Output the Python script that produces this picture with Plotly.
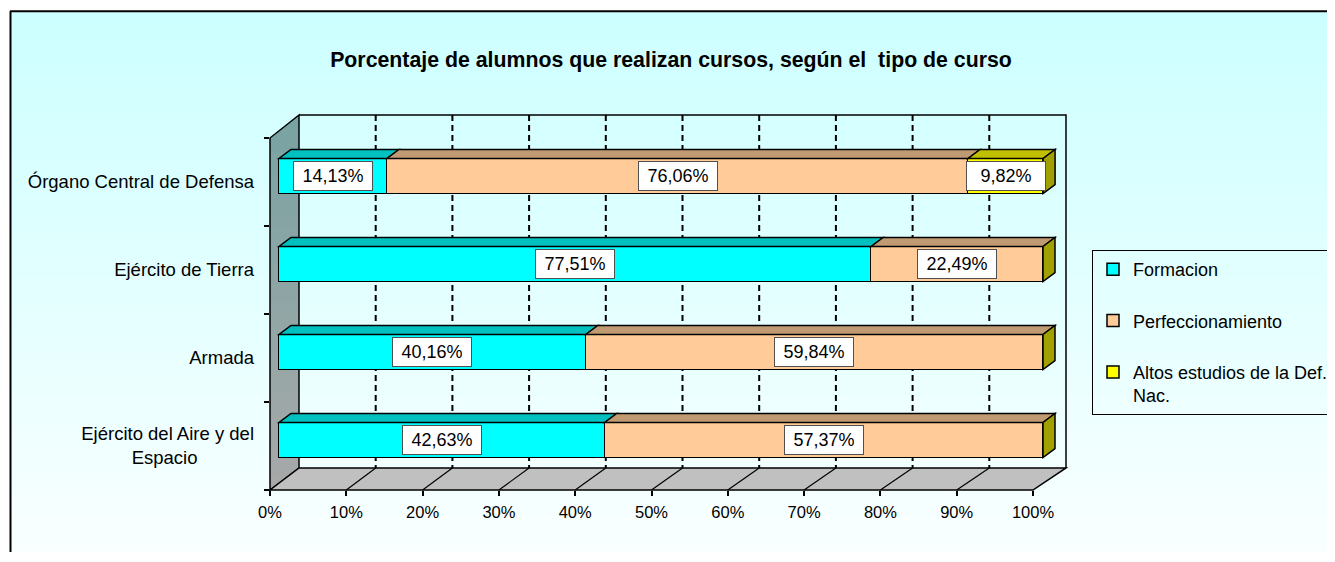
import plotly.graph_objects as go

# ---------------- data ----------------
categories = ["Ejército del Aire y del Espacio", "Armada", "Ejército de Tierra", "Órgano Central de Defensa"]
category_ticktext = ["Ejército del Aire y del<br>Espacio" + "\u00a0" * 11, "Armada",
                     "Ejército de Tierra", "Órgano Central de Defensa"]
series_names = ["Formacion", "Perfeccionamiento", "Altos estudios de la Def.<br>Nac."]
formacion = [42.63, 40.16, 77.51, 14.13]
perfeccionamiento = [57.37, 59.84, 22.49, 76.06]
altos_estudios = [0.0, 0.0, 0.0, 9.82]
x_tick_values = [0, 10, 20, 30, 40, 50, 60, 70, 80, 90, 100]
x_tick_labels = ["0%", "10%", "20%", "30%", "40%", "50%", "60%", "70%", "80%", "90%", "100%"]
title_text = "Porcentaje de alumnos que realizan cursos, según el  tipo de curso"

series_values = [formacion, perfeccionamiento, altos_estudios]

# ---------------- styles / geometry (screen pixels) ----------------
FONT = "Arial, Liberation Sans, sans-serif"
front_colors = ["#00FFFF", "#FFCC99", "#FFFF00"]
top_colors = ["#00C0C0", "#C09A72", "#C0C000"]
side_colors = ["#009999", "#A07850", "#A0A000"]

OFF = 8                                        # page body margin
W_FIG, H_FIG = 1319, 544
SCREEN_W, SCREEN_H = 1335, 562
PL, PR, PT, PB = 270, 1066, 115, 490          # plot area (screen px)
PW, PH = PR - PL, PB - PT
BAR_X0, BAR_PX = 279, 7.64                    # bar front plane: 0% pixel and px per %
FRONT_X0, FRONT_X1 = 270, 1033                # floor front edge
BACK_X0, BACK_X1 = 299, 1066                  # back wall
BACK_Y = 468
SIDE_TOP_FRONT_Y = 138
CAT_PX = 88
BAR_H_PX, BAR_SHIFT_PX = 35, 6
DEPTH_DX, DEPTH_DY = 12, 9

x_range = [(PL - BAR_X0) / BAR_PX, (PR - BAR_X0) / BAR_PX]
y_range = [-0.5, -0.5 + PH / CAT_PX]
bar_w = BAR_H_PX / CAT_PX
shift = BAR_SHIFT_PX / CAT_PX
bar_offset = shift - bar_w / 2
ddx = DEPTH_DX / BAR_PX
ddy = DEPTH_DY / CAT_PX


def px(x):
    return (x - PL) / PW


def py(y):
    return (PB - y) / PH


def lerp(a, b, t):
    return a + (b - a) * t


def rgb(c):
    return "rgb(%d,%d,%d)" % tuple(int(round(v)) for v in c)


def poly(pts, close=True):
    s = "M " + " L ".join("%.5f,%.5f" % (px(x), py(y)) for x, y in pts)
    return s + (" Z" if close else "")


shapes = []

# background gradient inside the chart border
BG_TOP, BG_BOT = (204, 255, 255), (250, 255, 255)
n_bands = 60
y_start, y_end = 11, SCREEN_H
step = (y_end - y_start) / n_bands
for i in range(n_bands):
    y0 = y_start + i * step
    y1 = y0 + step + 0.8
    t = (i + 0.5) / n_bands
    col = tuple(lerp(BG_TOP[k], BG_BOT[k], t) for k in range(3))
    shapes.append(dict(type="rect", xref="paper", yref="paper", layer="below",
                       x0=px(10), x1=px(SCREEN_W + 10), y0=py(y1), y1=py(y0),
                       fillcolor=rgb(col), line=dict(width=0)))

# outer border (left and top visible)
shapes.append(dict(type="line", xref="paper", yref="paper", layer="below",
                   x0=px(10.5), x1=px(10.5), y0=py(11), y1=py(SCREEN_H + 10),
                   line=dict(color="black", width=2)))
shapes.append(dict(type="line", xref="paper", yref="paper", layer="below",
                   x0=px(10), x1=px(SCREEN_W + 10), y0=py(11.3), y1=py(11.3),
                   line=dict(color="black", width=2)))

# left side wall with vertical gradient
WALL_TOP, WALL_BOT = (120, 163, 163), (168, 168, 168)


def xmin_at(y):
    if y >= SIDE_TOP_FRONT_Y:
        return FRONT_X0
    return FRONT_X0 + (SIDE_TOP_FRONT_Y - y) * (BACK_X0 - FRONT_X0) / (SIDE_TOP_FRONT_Y - PT)


def xmax_at(y):
    if y <= BACK_Y:
        return BACK_X0
    return BACK_X0 - (y - BACK_Y) * (BACK_X0 - FRONT_X0) / (PB - BACK_Y)


bounds = sorted(set([PT + k * (PB - PT) / 30 for k in range(31)] + [SIDE_TOP_FRONT_Y, BACK_Y]))
for a, b in zip(bounds[:-1], bounds[1:]):
    bb = min(b + 0.7, PB)
    t = ((a + b) / 2 - PT) / (PB - PT)
    col = tuple(lerp(WALL_TOP[k], WALL_BOT[k], t) for k in range(3))
    pts = [(xmin_at(a), a), (xmax_at(a), a), (xmax_at(bb), bb), (xmin_at(bb), bb)]
    shapes.append(dict(type="path", xref="paper", yref="paper", layer="below", path=poly(pts),
                       fillcolor=rgb(col), line=dict(width=0)))

shapes.append(dict(type="path", xref="paper", yref="paper", layer="below",
                   path=poly([(FRONT_X0, SIDE_TOP_FRONT_Y), (BACK_X0, PT), (BACK_X0, BACK_Y), (FRONT_X0, PB)]),
                   line=dict(color="black", width=1.5)))

# back wall outline
shapes.append(dict(type="path", xref="paper", yref="paper", layer="below",
                   path=poly([(BACK_X0, PT), (BACK_X1, PT), (BACK_X1, BACK_Y)], close=False),
                   line=dict(color="black", width=1.5)))

# floor
shapes.append(dict(type="path", xref="paper", yref="paper", layer="below",
                   path=poly([(FRONT_X0, PB), (BACK_X0, BACK_Y), (BACK_X1, BACK_Y), (FRONT_X1, PB)]),
                   fillcolor="#C0C0C0", line=dict(color="black", width=1.5)))

# back-wall dashed gridlines and floor diagonals
for v in x_tick_values[1:-1]:
    xb = BACK_X0 + v * (BACK_X1 - BACK_X0) / 100
    xf = FRONT_X0 + v * (FRONT_X1 - FRONT_X0) / 100
    shapes.append(dict(type="line", xref="paper", yref="paper", layer="below",
                       x0=px(xb), x1=px(xb), y0=py(PT), y1=py(BACK_Y),
                       line=dict(color="black", width=2, dash="6px,4px")))
    shapes.append(dict(type="line", xref="paper", yref="paper", layer="below",
                       x0=px(xf), x1=px(xb), y0=py(PB), y1=py(BACK_Y),
                       line=dict(color="black", width=1.2)))

# ---------------- bars ----------------
fig = go.Figure()
for s, (name, vals) in enumerate(zip(series_names, series_values)):
    fig.add_trace(go.Bar(
        y=categories, x=vals, orientation="h", name=name,
        width=bar_w, offset=bar_offset,
        marker=dict(color=front_colors[s], line=dict(color="black", width=1.5)),
        legendgroup="g%d" % s, hoverinfo="skip"))

# empty trace hosting the floor-front tick axis
fig.add_trace(go.Scatter(x=[], y=[], xaxis="x2", yaxis="y", showlegend=False, hoverinfo="skip"))

# 3D top faces, right face, and data labels
annotations = []
for i, cat in enumerate(categories):
    cum = 0.0
    y_top = i + bar_offset + bar_w
    y_bot = i + bar_offset
    for s, vals in enumerate(series_values):
        v = vals[i]
        if v > 0:
            x0, x1 = cum, cum + v
            path = "M %f,%f L %f,%f L %f,%f L %f,%f Z" % (
                x0, y_top, x1, y_top, x1 + ddx, y_top + ddy, x0 + ddx, y_top + ddy)
            shapes.append(dict(type="path", xref="x", yref="y", layer="above", path=path,
                               fillcolor=top_colors[s], line=dict(color="black", width=1.5)))
            annotations.append(dict(
                x=cum + v / 2, y=i + shift, xref="x", yref="y", showarrow=False,
                text=("%.2f" % v).replace(".", ",") + "%",
                font=dict(family=FONT, size=18, color="black"),
                bgcolor="white", bordercolor="#505050", borderwidth=1, borderpad=2,
                width=74, height=24))
        cum += v
    path = "M %f,%f L %f,%f L %f,%f L %f,%f Z" % (
        cum, y_bot, cum, y_top, cum + ddx, y_top + ddy, cum + ddx, y_bot + ddy)
    shapes.append(dict(type="path", xref="x", yref="y", layer="above", path=path,
                       fillcolor=side_colors[-1], line=dict(color="black", width=1.5)))

fig.update_layout(
    width=W_FIG, height=H_FIG, autosize=False,
    margin=dict(l=PL - OFF, r=W_FIG - (PR - OFF), t=PT - OFF, b=H_FIG - (PB - OFF), pad=0,
                autoexpand=False),
    paper_bgcolor="white", plot_bgcolor="rgba(0,0,0,0)",
    barmode="stack", bargap=0,
    font=dict(family=FONT, size=18, color="black"),
    title=dict(text="<b>" + title_text + "</b>", xref="container", yref="container",
               x=(671 - OFF) / W_FIG, y=1 - (60 - OFF) / H_FIG, xanchor="center", yanchor="middle",
               font=dict(family=FONT, size=21.3, color="black")),
    xaxis=dict(range=x_range, visible=False, showgrid=False, zeroline=False, automargin=False),
    xaxis2=dict(range=[0, 100], domain=[0, (FRONT_X1 - FRONT_X0) / PW], anchor="y",
                tickvals=x_tick_values, ticktext=x_tick_labels, ticks="outside", ticklen=5,
                tickwidth=2, tickcolor="black", showgrid=False, zeroline=False, showline=False,
                tickfont=dict(family=FONT, size=16.5, color="black"), ticklabelstandoff=2,
                automargin=False),
    yaxis=dict(type="category", categoryorder="array", categoryarray=categories,
               tickvals=categories, ticktext=category_ticktext, range=y_range,
               tickson="boundaries", ticks="outside", ticklen=5, tickwidth=2, tickcolor="black",
               showgrid=False, zeroline=False, showline=False, ticklabelstandoff=15,
               tickfont=dict(family=FONT, size=18.5, color="black"), automargin=False),
    legend=dict(x=px(1092), y=py(250), xanchor="left", yanchor="top",
                bgcolor="rgba(0,0,0,0)", bordercolor="black", borderwidth=1,
                font=dict(family=FONT, size=18, color="black"),
                traceorder="grouped", tracegroupgap=25, valign="top", itemwidth=30),
    shapes=shapes,
    annotations=annotations,
)

fig.write_html("out.html")
